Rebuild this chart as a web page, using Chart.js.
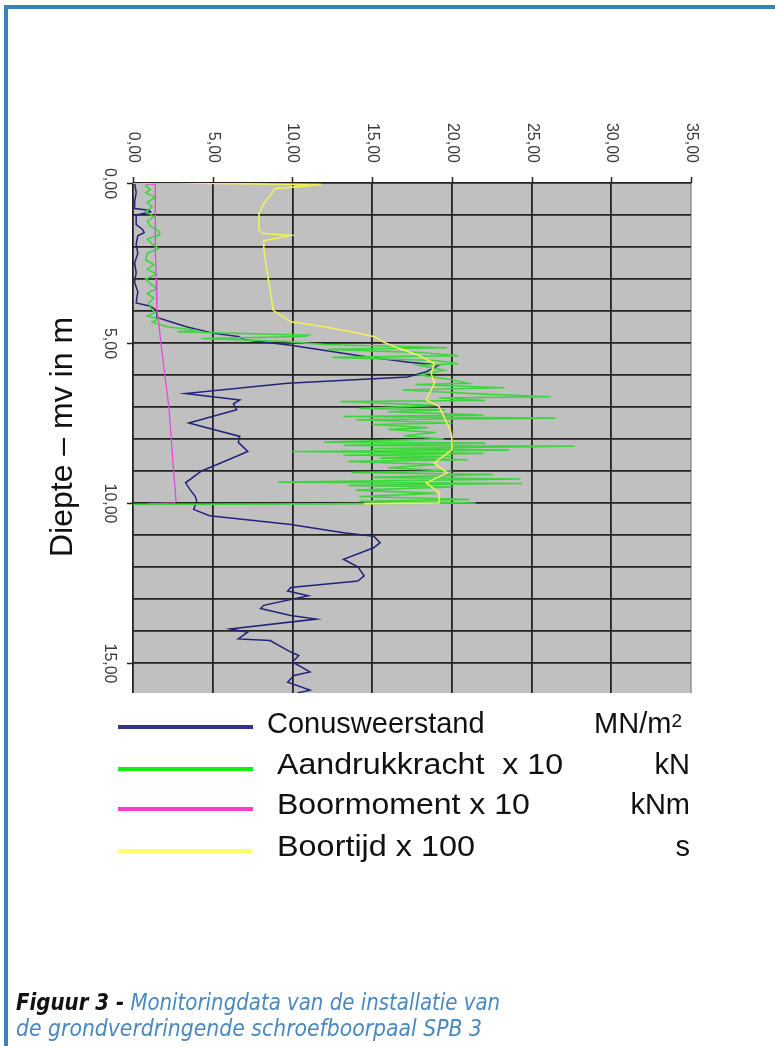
<!DOCTYPE html>
<html>
<head>
<meta charset="utf-8">
<script src="https://cdn.jsdelivr.net/npm/chart.js@4/dist/chart.umd.min.js"></script>
<style>
html, body { margin: 0; padding: 0; background: #fff; }
body { width: 775px; height: 1046px; position: relative; overflow: hidden; font-family: "Liberation Sans", Arial, sans-serif; }
#frameTop { position: absolute; left: 4px; top: 5px; width: 771px; height: 4px; background: #3f7fb5; }
#frameLeft { position: absolute; left: 4px; top: 5px; width: 4px; height: 1041px; background: #3f7fb5; }
#chart { position: absolute; left: 0; top: 0; }
.lg-line { position: absolute; left: 118px; width: 135px; height: 4px; }
.lg-text { position: absolute; font-size: 29px; line-height: 29px; color: #111; white-space: pre; transform-origin: 0 0; }
.lg-unit { position: absolute; right: 85px; font-size: 29px; line-height: 29px; color: #111; white-space: pre; }
.lg-unit sup { font-size: 19px; position: relative; top: -3px; vertical-align: top; }
.cap { position: absolute; left: 16px; font-family: "Liberation Sans Narrow", "DejaVu Sans Condensed", sans-serif; font-style: italic; font-size: 23px; line-height: 23px; color: #4a88c0; white-space: nowrap; transform-origin: 0 0; }
.cap b { color: #111; }
</style>
</head>
<body>
<div id="frameTop"></div>
<div id="frameLeft"></div>
<canvas id="chart" width="775" height="1046"></canvas>

<div class="lg-line" style="top:725px;background:#33338f"></div>
<div class="lg-line" style="top:767px;background:#11ee11"></div>
<div class="lg-line" style="top:807px;background:#ff3dcc"></div>
<div class="lg-line" style="top:849px;background:#ffff70"></div>
<div class="lg-text" style="left:267px;top:709px">Conusweerstand</div>
<div id="lgA" class="lg-text" style="left:277px;top:750px">Aandrukkracht  x 10</div>
<div id="lgB" class="lg-text" style="left:277px;top:790px">Boormoment x 10</div>
<div id="lgC" class="lg-text" style="left:277px;top:832px">Boortijd x 100</div>
<div class="lg-unit" style="top:709px;right:93px">MN/m<sup>2</sup></div>
<div class="lg-unit" style="top:750px">kN</div>
<div class="lg-unit" style="top:790px">kNm</div>
<div class="lg-unit" style="top:832px">s</div>

<div id="cap1" class="cap" style="top:991px"><b>Figuur 3 -</b> Monitoringdata van de installatie van</div>
<div id="cap2" class="cap" style="top:1017px">de grondverdringende schroefboorpaal SPB 3</div>

<script>
// axis labels (comma decimals, as in the figure)
const xTickValues = [0, 5, 10, 15, 20, 25, 30, 35];
const xTickLabels = ['0,00', '5,00', '10,00', '15,00', '20,00', '25,00', '30,00', '35,00'];
const yTickValues = [0, 5, 10, 15];
const yTickLabels = ['0,00', '5,00', '10,00', '15,00'];
const yTitle = 'Diepte \u2013 mv in m';

// Conusweerstand (MN/m2) vs depth (m)
const conusDepth = [0.00, 0.30, 0.60, 0.80, 0.85, 0.90, 1.00, 1.30, 1.45, 1.55, 1.65, 1.90, 2.20, 2.50, 2.80, 3.10, 3.40, 3.75, 3.85, 4.00,
  4.20, 4.50, 4.70, 4.80, 4.90, 5.07, 5.40, 5.60, 5.69, 5.90, 6.06, 6.26, 6.58, 6.78, 6.90, 7.09, 7.50, 7.92, 8.10, 8.39,
  8.75, 9.00, 9.37, 9.60, 9.79, 9.95, 10.20, 10.40, 10.67, 10.93, 11.04, 11.24, 11.40, 11.76, 12.00, 12.28, 12.44, 12.64, 12.75, 12.90,
  13.20, 13.30, 13.52, 13.63, 13.94, 14.04, 14.25, 14.30, 14.66, 14.77, 14.97, 15.28, 15.39, 15.60, 15.85, 15.94];
const conusValue = [0.1, 0.2, 0.1, 0.1, 1.0, 1.1, 0.2, 0.2, 0.6, 0.7, 0.3, 0.2, 0.3, 0.1, 0.2, 0.1, 0.3, 0.2, 1.1, 1.5,
  1.5, 3.4, 5.1, 6.6, 7.0, 9.9, 14.2, 17.3, 19.2, 18.4, 17.2, 9.7, 3.3, 6.7, 6.3, 6.5, 3.5, 6.7, 6.6, 7.2,
  5.5, 4.3, 3.3, 3.6, 3.9, 4.0, 3.8, 4.8, 9.9, 13.2, 15.1, 15.5, 15.1, 13.2, 14.1, 14.5, 14.1, 9.9, 9.7, 11.0,
  8.2, 8.0, 9.9, 11.5, 6.1, 7.2, 6.6, 8.6, 9.9, 10.4, 10.0, 11.1, 10.1, 9.7, 11.1, 10.3];

// Aandrukkracht x 10 (kN)
const drukDepth = [0.00, 0.10, 0.20, 0.30, 0.45, 0.60, 0.75, 0.90, 1.05, 1.20, 1.35, 1.50, 1.62, 1.75, 1.90, 2.05, 2.20, 2.40, 2.55, 2.70,
  2.85, 3.00, 3.15, 3.30, 3.45, 3.60, 3.75, 3.90, 4.05, 4.15, 4.25, 4.35,
  4.50, 4.60, 4.65, 4.76, 4.80, 4.86, 4.95, 5.05, 5.15, 5.20, 5.30, 5.40, 5.45, 5.55, 5.65, 5.70, 5.85, 6.00, 6.15, 6.26,
  6.30, 6.40, 6.47, 6.60, 6.68, 6.72, 6.80, 6.83, 6.95, 7.05, 7.09, 7.15, 7.25, 7.30, 7.35, 7.40, 7.50, 7.55, 7.65, 7.70,
  7.80, 7.90, 8.00, 8.10, 8.13, 8.20, 8.23, 8.30, 8.35, 8.39, 8.45, 8.50, 8.55, 8.60, 8.65, 8.70, 8.80, 8.90, 9.00, 9.05,
  9.11, 9.20, 9.25, 9.35, 9.39, 9.45, 9.50, 9.60, 9.70, 9.80, 9.89, 9.95, 10.00, 10.03, 10.05];
const drukValue = [1.0, 0.8, 1.1, 0.8, 1.4, 0.9, 1.2, 0.8, 1.3, 0.9, 1.1, 1.6, 1.7, 0.9, 1.2, 1.6, 0.9, 0.8, 1.3, 0.9,
  1.5, 0.8, 1.1, 1.5, 0.9, 1.3, 1.0, 1.1, 1.4, 0.9, 1.6, 1.2,
  2.2, 4.0, 2.8, 11.0, 10.8, 4.3, 9.5, 12.0, 19.7, 12.2, 18.0, 20.4, 12.5, 19.0, 20.4, 17.9, 19.5, 18.0, 20.0, 21.0,
  17.7, 23.3, 16.9, 22.0, 26.2, 19.2, 22.1, 13.0, 19.0, 14.2, 19.6, 16.0, 22.0, 13.2, 26.5, 14.0, 20.0, 15.0, 18.5, 16.0,
  19.0, 17.0, 19.5, 12.0, 22.1, 13.2, 27.7, 15.0, 23.6, 10.0, 22.0, 13.2, 20.0, 15.5, 21.0, 13.5, 19.0, 16.0, 20.0, 13.7,
  22.6, 15.0, 24.3, 9.1, 24.4, 13.5, 20.0, 14.0, 19.0, 14.2, 21.1, 14.2, 21.5, 12.0, 0.0];

// Boormoment x 10 (kNm)
const momentDepth = [0.00, 0.05, 1.00, 2.00, 3.00, 4.00, 4.30, 5.00, 6.00, 7.00, 8.00, 9.00, 9.95, 10.00, 10.02];
const momentValue = [0.5, 1.4, 1.4, 1.4, 1.45, 1.5, 1.6, 1.75, 2.0, 2.25, 2.4, 2.55, 2.7, 2.6, 1.0];

// Boortijd x 100 (s)
const tijdDepth = [0.00, 0.00, 0.05, 0.18, 0.33, 0.65, 0.96, 1.48, 1.58, 1.64, 1.80, 2.00, 2.42, 3.04, 3.98, 4.34, 4.50, 4.70, 4.81, 4.97,
  5.12, 5.38, 5.64, 5.95, 6.26, 6.78, 6.99, 7.72, 7.92, 8.34, 8.75, 9.06, 9.37, 9.68, 10.00, 10.02];
const tijdValue = [0.0, 2.8, 11.8, 8.9, 8.7, 8.2, 7.9, 7.9, 8.2, 9.9, 8.2, 8.2, 8.3, 8.5, 8.8, 9.9, 12.1, 14.2, 15.2, 15.7,
  16.4, 17.9, 18.9, 18.7, 18.9, 18.4, 19.2, 19.9, 20.0, 20.0, 18.9, 19.7, 18.4, 19.2, 19.2, 14.5];

function pts(depth, value) {
    return depth.map((d, i) => ({x: value[i], y: d}))
}

const gridColor = '#232323'

// grey plot background, rotated tick labels and the axis title
const decor = {
    id: 'decor',
    beforeDraw(chart) {
        const {ctx, chartArea: a} = chart
        ctx.save()
        ctx.fillStyle = '#c0c0c0'
        ctx.fillRect(a.left, a.top, a.right - a.left, a.bottom - a.top)
        ctx.restore()
    },
    afterDraw(chart) {
        const {ctx, chartArea: a, scales} = chart
        ctx.save()
        ctx.strokeStyle = gridColor
        ctx.lineWidth = 1.5
        ctx.fillStyle = '#3a3a3a'
        ctx.font = '16px "Liberation Sans", Arial, sans-serif'
        xTickValues.forEach((v, i) => {
            const px = Math.round(scales.x.getPixelForValue(v)) + 0.5
            ctx.beginPath()
            ctx.moveTo(px, a.top - 6)
            ctx.lineTo(px, a.top)
            ctx.stroke()
            ctx.save()
            ctx.translate(px, a.top - 20)
            ctx.rotate(Math.PI / 2)
            ctx.textAlign = 'right'
            ctx.textBaseline = 'middle'
            ctx.fillText(xTickLabels[i], 0, 0)
            ctx.restore()
        })
        yTickValues.forEach((v, i) => {
            const py = Math.round(scales.y.getPixelForValue(v)) + 0.5
            ctx.beginPath()
            ctx.moveTo(a.left - 6, py)
            ctx.lineTo(a.left, py)
            ctx.stroke()
            ctx.save()
            ctx.translate(a.left - 24, py)
            ctx.rotate(Math.PI / 2)
            ctx.textAlign = 'center'
            ctx.textBaseline = 'middle'
            ctx.fillText(yTickLabels[i], 0, 0)
            ctx.restore()
        })
        ctx.save()
        ctx.fillStyle = '#111'
        ctx.font = '32px "Liberation Sans", Arial, sans-serif'
        ctx.translate(72, (a.top + a.bottom) / 2 - 1)
        ctx.rotate(-Math.PI / 2)
        ctx.textAlign = 'center'
        ctx.textBaseline = 'alphabetic'
        ctx.fillText(yTitle, 0, 0)
        ctx.restore()
        ctx.restore()
    }
}

const chart = new Chart(document.getElementById('chart'), {
    type: 'scatter',
    data: {
        datasets: [
            {label: 'Conusweerstand', data: pts(conusDepth, conusValue), borderColor: '#23237a', borderWidth: 1.5, order: 3},
            {label: 'Aandrukkracht x 10', data: pts(drukDepth, drukValue), borderColor: '#3fd43f', borderWidth: 1.6, order: 2},
            {label: 'Boormoment x 10', data: pts(momentDepth, momentValue), borderColor: '#e04cd6', borderWidth: 1.3, order: 1},
            {label: 'Boortijd x 100', data: pts(tijdDepth, tijdValue), borderColor: '#f0f058', borderWidth: 1.6, order: 0},
        ].map(ds => Object.assign(ds, {showLine: true, pointRadius: 0, tension: 0, fill: false}))
    },
    options: {
        responsive: false,
        animation: false,
        devicePixelRatio: 1,
        layout: {padding: {left: 133, top: 183, right: 84, bottom: 353}},
        plugins: {legend: {display: false}, tooltip: {enabled: false}},
        scales: {
            x: {
                type: 'linear', position: 'top', min: 0, max: 35,
                ticks: {display: false, stepSize: 5},
                grid: {color: c => c.tick.value === 35 ? '#9a9a9a' : gridColor, lineWidth: 1.8, drawTicks: false},
                border: {display: false},
                afterFit: s => { s.height = 0 }
            },
            y: {
                type: 'linear', reverse: true, min: 0, max: 15.94,
                ticks: {display: false, stepSize: 1},
                grid: {color: c => Number.isInteger(c.tick.value) ? gridColor : 'rgba(0,0,0,0)', lineWidth: 1.8, drawTicks: false},
                border: {display: false},
                afterFit: s => { s.width = 0 }
            }
        }
    },
    plugins: [decor]
});

// stretch text to the widths measured on the original figure
const fitWidths = [['cap1', 484], ['cap2', 466], ['lgA', 286], ['lgB', 253], ['lgC', 198]];
fitWidths.forEach(([id, w]) => {
    const el = document.getElementById(id)
    const real = el.getBoundingClientRect().width
    el.style.transform = 'scaleX(' + (w / real).toFixed(3) + ')'
})
</script>
</body>
</html>
